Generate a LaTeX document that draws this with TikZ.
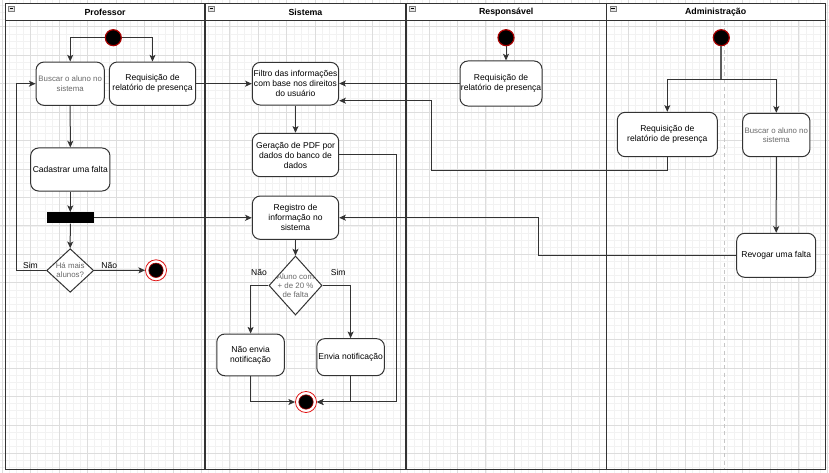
\documentclass[tikz,border=0pt]{standalone}
\usepackage{fontspec}
\setmainfont{Liberation Sans}
\usetikzlibrary{arrows.meta,shapes.geometric}

\definecolor{gridminor}{HTML}{F2F2F2}
\definecolor{gridmajor}{HTML}{DDDDDD}
\definecolor{ink}{HTML}{333333}
\definecolor{muted}{HTML}{6A6A6A}
\definecolor{startred}{HTML}{A80000}
\definecolor{endred}{HTML}{E01010}

\newcommand\fsmain{\fontsize{6.4}{7.5}\selectfont}
\newcommand\fssmall{\fontsize{5.9}{6.8}\selectfont\color{muted}}
\newcommand\fshead{\fontsize{6.6}{8}\selectfont\bfseries}

\tikzset{
  act/.style={draw=ink, line width=0.75pt, fill=white, rounded corners=6pt,
    align=center, inner sep=0pt, font=\fsmain},
  actsmall/.style={act, font=\fssmall},
  decision/.style={diamond, draw=ink, line width=0.75pt, fill=white, inner sep=0pt},
  forkbar/.style={rectangle, fill=black, inner sep=0pt},
  startnode/.style={circle, fill=black, draw=startred, line width=0.9pt,
    minimum size=12pt, inner sep=0pt},
  endnode/.style={circle, fill=white, draw=endred, line width=0.6pt,
    minimum size=15.8pt, inner sep=0pt,
    path picture={\fill[black] (path picture bounding box.center) circle (5.4pt);
                  \draw[startred, line width=0.5pt] (path picture bounding box.center) circle (5.4pt);}},
  flow/.style={draw=ink, line width=0.75pt, -{Stealth[length=5pt,width=4.5pt,inset=1.2pt]}},
  plain/.style={draw=ink, line width=0.75pt},
  lane/.style={draw=ink, line width=1.1pt},
  lanetitle/.style={font=\fshead, inner sep=0pt},
  edgelabel/.style={font=\fsmain, inner sep=0pt},
}

\begin{document}
\begin{tikzpicture}[x=0.75pt, y=-0.75pt]
\useasboundingbox (0,0) rectangle (829,473);
\fill[white] (0,0) rectangle (829,473);

% background grid
\foreach \i in {0,...,116} \draw[gridminor, line width=0.45pt] ({2.2+\i*7.1125},0) -- ({2.2+\i*7.1125},473);
\foreach \j in {0,...,65} \draw[gridminor, line width=0.45pt] (0,{5.36+\j*7.1125}) -- (829,{5.36+\j*7.1125});
\foreach \i in {0,...,29} \draw[gridmajor, line width=0.55pt] ({2.2+\i*28.45},0) -- ({2.2+\i*28.45},473);
\foreach \j in {0,...,15} \draw[gridmajor, line width=0.55pt] (0,{26.7+\j*28.45}) -- (829,{26.7+\j*28.45});

% swimlanes
\fill[white] (5.3,3.7) rectangle (825.3,20.7);
\draw[gray!45, dashed, line width=0.6pt, dash pattern=on 3pt off 2.5pt] (724.3,20.7) -- (724.3,469.3);
\draw[lane] (5.3,3.7) rectangle (825.3,469.3);
\draw[lane] (5.3,20.7) -- (825.3,20.7);
\foreach \x in {205,406,606.5} \draw[lane] (\x,3.7) -- (\x,469.3);
\foreach \x in {5.3,205,406,606.5} {
  \draw[gray, fill=gray!20, line width=0.4pt] (\x+3.3,5.8) rectangle ++(6,5.6);
  \draw[black, line width=0.7pt] (\x+4.5,8.6) -- ++(3.6,0);
}
\node[lanetitle] (tProf) at (105.1,12.4) {Professor};
\node[lanetitle] (tSist) at (305.5,12.4) {Sistema};
\node[lanetitle] (tResp) at (506.2,12.4) {Responsável};
\node[lanetitle] (tAdm)  at (715.6,12.4) {Administração};

% Professor
\node[startnode] (pStart) at (113.3,37.7) {};
\node[actsmall, minimum width=51.2pt, minimum height=32.5pt] (pBus) at (70.2,83.7) {Buscar o aluno no\\sistema};
\node[act, minimum width=64.8pt, minimum height=32.5pt] (pReq) at (152.5,83.7) {Requisição de\\relatório de presença};
\node[act, minimum width=59.5pt, minimum height=32.3pt] (pCad) at (70.3,169.5) {Cadastrar uma falta};
\node[forkbar, minimum width=35.5pt, minimum height=8.25pt] (bar) at (70.3,217.8) {};
\node[decision, minimum width=35.3pt, minimum height=32.7pt,
  label={[font=\fssmall, align=center]center:Há mais\\alunos?}] (pDec) at (70.2,270.5) {};
\node[endnode] (pEnd) at (156,270.3) {};
\coordinate (loopx) at (16.7,270.5);
\node[edgelabel] (lSim1) at (30.5,265.3) {Sim};
\node[edgelabel] (lNao1) at (109.2,265.8) {Não};

% Sistema
\node[act, minimum width=64.8pt, minimum height=32pt] (sFil) at (295.5,83.7) {Filtro das informações\\com base nos direitos\\do usuário};
\node[act, minimum width=64.8pt, minimum height=32.6pt] (sGer) at (295.5,155) {Geração de PDF por\\dados do banco de\\dados};
\node[act, minimum width=64.8pt, minimum height=32.5pt] (sReg) at (295.5,217.7) {Registro de\\informação no\\sistema};
\node[decision, minimum width=39.8pt, minimum height=44.3pt,
  label={[font=\fssmall, align=center]center:Aluno com\\+ de 20 \%\\de falta}] (sDec) at (295.5,285.5) {};
\node[act, minimum width=50.7pt, minimum height=31.3pt] (sNao) at (250.6,354.9) {Não envia\\notificação};
\node[act, minimum width=50.7pt, minimum height=27.8pt] (sEnv) at (350.6,357.2) {Envia notificação};
\node[endnode] (sEnd) at (306,402) {};
\node[edgelabel] (lNao2) at (259,272.8) {Não};
\node[edgelabel] (lSim2) at (338.2,272.8) {Sim};
\coordinate (k3) at (396.7,402);

% Responsavel
\node[startnode] (rStart) at (506,37.7) {};
\node[act, minimum width=61.5pt, minimum height=33.8pt] (rReq) at (501,83.5) {Requisição de\\relatório de presença};

% Administracao
\node[startnode] (aStart) at (721.3,37.7) {};
\coordinate (k5) at (721.3,80);
\node[act, minimum width=75pt, minimum height=33.3pt] (aReq) at (667.3,134.5) {Requisição de\\relatório de presença};
\node[actsmall, minimum width=50.5pt, minimum height=32.6pt] (aBus) at (776.3,135) {Buscar o aluno no\\sistema};
\node[act, minimum width=59.3pt, minimum height=33pt] (aRev) at (776.2,255.3) {Revogar uma falta};
\coordinate (k1) at (431,170.7);
\coordinate (k2) at (431,100.7);
\coordinate (k4) at (538,255.3);

% connectors: Professor
\draw[flow] (pStart.west) -| (pBus.north);
\draw[flow] (pStart.east) -| (pReq.north);
\draw[flow] (pBus.south) -- (pCad.north);
\draw[flow] (pCad.south) -- (bar.north);
\draw[flow] (bar.south) -- (pDec.north);
\draw[flow] (pDec.west) -- (loopx) |- (pBus.west);
\draw[flow] (pDec.east) -- (pEnd.west);
\draw[flow] (pReq.east) -- (pReq.east -| sFil.west);
\draw[flow] (bar.east) -- (bar.east -| sReg.west);

% connectors: Sistema
\draw[flow] (sFil.south) -- (sGer.north);
\draw[flow] (sReg.south) -- (sDec.north);
\draw[flow] (sDec.west) -| (sNao.north);
\draw[flow] (sDec.east) -| (sEnv.north);
\draw[flow] (sNao.south) |- (sEnd.west);
\draw[flow] (sEnv.south) |- (sEnd.east);
\draw[flow] (sGer.east) -| (k3) -- (sEnd.east);

% connectors: Responsavel
\draw[flow] (rStart.south) -- (rStart.south |- rReq.north);
\draw[flow] (rReq.west) -- (rReq.west -| sFil.east);

% connectors: Administracao
\draw[draw=ink!80, line width=1.6pt] (aStart.south) -- (k5);
\draw[flow] (k5) -| (aReq.north);
\draw[flow] (k5) -| (aBus.north);
\draw[flow] (aReq.south) |- (k1) -- (k2) -- (k2 -| sFil.east);
\draw[flow] (aBus.south) -- (aRev.north);
\draw[flow] (aRev.west) -- (k4) |- (sReg.east);
\end{tikzpicture}
\end{document}
